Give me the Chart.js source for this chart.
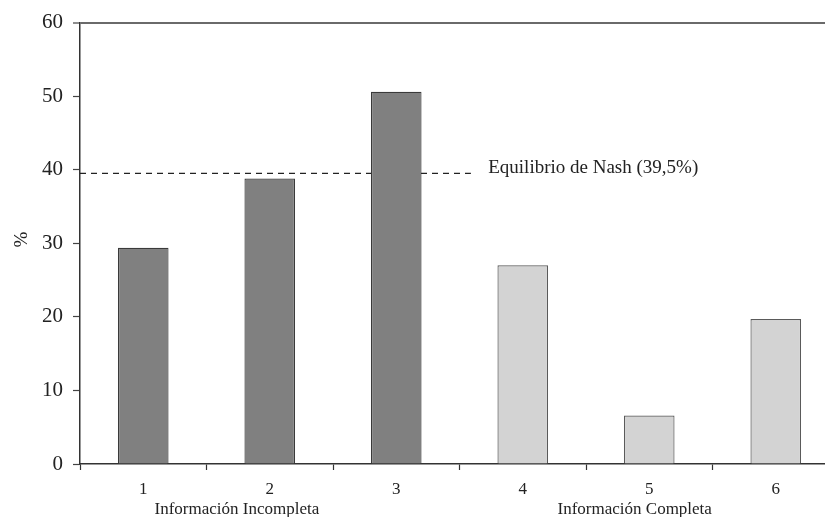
<!DOCTYPE html>
<html>
<head>
<meta charset="utf-8">
<script src="https://cdn.jsdelivr.net/npm/chart.js@4.4.1/dist/chart.umd.min.js"></script>
<style>
  html, body { margin: 0; padding: 0; background: #fff; overflow: hidden; }
  #wrap { position: relative; width: 845px; height: 517px; }
</style>
</head>
<body>
<div id="wrap"><canvas id="c"></canvas></div>
<script>
// Treatments 1–6, share (%) per treatment
const categories = ['1', '2', '3', '4', '5', '6'];
const values = [29.4, 38.8, 50.6, 27.0, 6.6, 19.7];
const groupLabels = ['Información Incompleta', 'Información Completa'];
const nashValue = 39.5;
const nashLabel = 'Equilibrio de Nash (39,5%)';
const yTicks = [0, 10, 20, 30, 40, 50, 60];

const darkFill = '#808080', darkEdge = '#3a3a3a';
const lightFill = '#d3d3d3', lightEdge = '#5a5a5a';
const fills = values.map((v, i) => i < 3 ? darkFill : lightFill);
const edges = values.map((v, i) => i < 3 ? darkEdge : lightEdge);

const serif = '"Liberation Serif", "DejaVu Serif", serif';

// Dashed Nash reference line (under the bars) and its caption
const nashPlugin = {
  id: 'nash',
  beforeDatasetsDraw(chart) {
    const { ctx, chartArea, scales } = chart;
    const y = scales.y.getPixelForValue(nashValue);
    const xEnd = scales.x.getPixelForValue(2.59);
    ctx.save();
    ctx.strokeStyle = '#222';
    ctx.lineWidth = 1.2;
    ctx.setLineDash([6, 5]);
    ctx.beginPath();
    ctx.moveTo(chartArea.left, y);
    ctx.lineTo(xEnd, y);
    ctx.stroke();
    ctx.restore();
  },
  afterDraw(chart) {
    const { ctx, scales } = chart;
    const y = scales.y.getPixelForValue(nashValue);
    ctx.save();
    ctx.fillStyle = '#222';
    ctx.font = '19px ' + serif;
    ctx.textAlign = 'left';
    ctx.textBaseline = 'alphabetic';
    ctx.fillText(nashLabel, scales.x.getPixelForValue(2.727), y - 0.5);
    ctx.restore();
  }
};

// Group captions under the category numbers, and the y-axis title
const groupPlugin = {
  id: 'groups',
  afterDraw(chart) {
    const { ctx, scales } = chart;
    ctx.save();
    ctx.fillStyle = '#222';
    ctx.font = '17px ' + serif;
    ctx.textAlign = 'center';
    ctx.textBaseline = 'alphabetic';
    ctx.fillText(groupLabels[0], scales.x.getPixelForValue(0.74), 514);
    ctx.fillText(groupLabels[1], scales.x.getPixelForValue(3.885), 514);
    ctx.translate(22, scales.y.getPixelForValue(30.5));
    ctx.rotate(-Math.PI / 2);
    ctx.font = '19px ' + serif;
    ctx.textBaseline = 'middle';
    ctx.fillText('%', 0, 0);
    ctx.restore();
  }
};

new Chart(document.getElementById('c'), {
  type: 'bar',
  data: {
    labels: categories,
    datasets: [{
      data: values,
      backgroundColor: fills,
      borderColor: edges,
      borderWidth: 1.2,
      barPercentage: 0.4,
      categoryPercentage: 1.0
    }]
  },
  options: {
    responsive: true,
    maintainAspectRatio: false,
    animation: false,
    layout: { padding: { left: 0, top: 21, right: 6, bottom: 0 } },
    plugins: { legend: { display: false }, tooltip: { enabled: false } },
    scales: {
      x: {
        afterFit(scale) { scale.height = 53; },
        grid: { drawOnChartArea: false, drawTicks: true, tickLength: 6, tickColor: '#333', tickWidth: 1.2 },
        border: { display: true, color: '#333', width: 1.5 },
        ticks: { color: '#222', font: { family: serif, size: 17 }, padding: 9 }
      },
      y: {
        min: 0, max: 60,
        afterFit(scale) { scale.width = 80; },
        afterBuildTicks(scale) { scale.ticks = yTicks.map(v => ({ value: v })); },
        grid: {
          drawOnChartArea: true,
          color: c => (c.tick && c.tick.value === 60) ? '#6a6a6a' : 'rgba(0,0,0,0)',
          lineWidth: c => (c.tick && c.tick.value === 60) ? 2 : 1,
          tickColor: '#444', tickLength: 7, tickWidth: 1.2
        },
        border: { display: true, color: '#333', width: 1.5 },
        ticks: { color: '#222', font: { family: serif, size: 21 }, padding: 10 }
      }
    }
  },
  plugins: [nashPlugin, groupPlugin]
});
</script>
</body>
</html>
